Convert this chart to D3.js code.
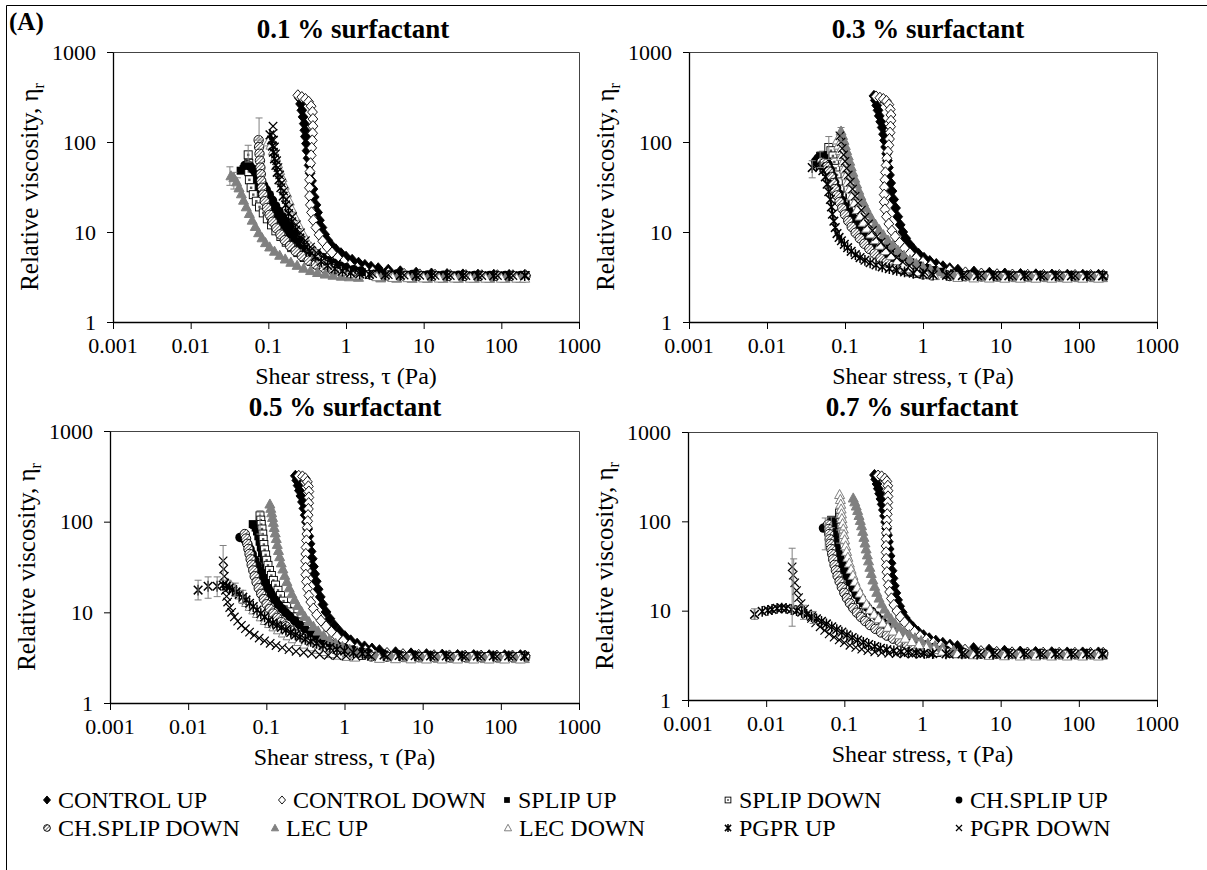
<!DOCTYPE html>
<html>
<head>
<meta charset="utf-8">
<script src="https://cdn.jsdelivr.net/npm/d3@7"></script>
</head>
<body style="margin:0">
<div id="chart"></div>
<script>
/* relative viscosity vs shear stress, 4 surfactant levels */

const xTicks = [0.001, 0.01, 0.1, 1, 10, 100, 1000];
const xTickLabels = ["0.001", "0.01", "0.1", "1", "10", "100", "1000"];
const yTicks = [1, 10, 100, 1000];
const yTickLabels = ["1", "10", "100", "1000"];
const panelTitles = ["0.1 % surfactant", "0.3 % surfactant", "0.5 % surfactant", "0.7 % surfactant"];
const seriesNames = ["CONTROL UP", "CONTROL DOWN", "SPLIP UP", "SPLIP DOWN", "CH.SPLIP UP",
                     "CH.SPLIP DOWN", "LEC UP", "LEC DOWN", "PGPR UP", "PGPR DOWN"];

/* ---- 0.1 % ---- [shear stress Pa, relative viscosity] */
const p1_ctrlUp = [[0.25,310],[0.26,265],[0.27,225],[0.28,190],[0.29,160],[0.295,135],[0.3,115],[0.31,96],[0.315,80],[0.325,66],[0.335,55],[0.345,45],[0.36,37],[0.375,30],[0.39,24.5],[0.41,20],[0.43,16.5],[0.455,13.5],[0.49,11.2],[0.53,9.4],[0.58,8.1],[0.65,7.1],[0.74,6.4],[0.86,5.8],[1,5.3],[1.2,4.9],[1.45,4.55],[1.75,4.3],[2.1,4.1],[2.6,3.95],[3.5,3.8],[5,3.65],[8,3.52],[12.6,3.45],[20,3.4],[32,3.37],[50,3.35],[80,3.34],[126,3.33],[200,3.32]];
const p1_ctrlDown = [[0.24,330],[0.27,315],[0.3,300],[0.33,280],[0.355,250],[0.37,215],[0.375,180],[0.375,150],[0.372,125],[0.368,104],[0.362,86],[0.356,71],[0.35,58],[0.344,47],[0.34,38],[0.338,31],[0.34,25],[0.348,20],[0.36,16.5],[0.38,13.5],[0.41,11.2],[0.45,9.3],[0.5,7.9],[0.57,6.8],[0.66,5.9],[0.78,5.2],[0.93,4.7],[1.12,4.3],[1.4,4],[1.75,3.8],[2.2,3.65],[3.5,3.5],[5.6,3.42],[8.9,3.37],[14,3.34],[22,3.32],[35,3.31],[56,3.3],[89,3.3],[141,3.3],[205,3.3]];
const p1_splipUp = [[0.044,48],[0.048,50],[0.052,49],[0.056,46],[0.06,42],[0.065,38],[0.07,34],[0.076,30],[0.083,26.5],[0.09,23.5],[0.1,20.5],[0.11,18],[0.122,15.8],[0.136,13.8],[0.152,12],[0.17,10.6],[0.19,9.3],[0.215,8.2],[0.245,7.3],[0.28,6.6],[0.32,6],[0.37,5.5],[0.43,5.05],[0.5,4.7],[0.6,4.4],[0.72,4.15],[0.87,3.95],[1.05,3.8],[1.3,3.68],[1.6,3.58],[2.5,3.45],[4,3.38],[6.3,3.34],[10,3.31],[15.8,3.3],[25,3.29],[40,3.28],[63,3.28],[100,3.28],[158,3.28],[200,3.28]];
const p1_splipDown = [[0.055,72],[0.056,58],[0.056,47],[0.057,38],[0.06,31],[0.064,26],[0.07,22],[0.077,19],[0.086,16.3],[0.097,14],[0.11,12],[0.125,10.3],[0.145,8.9],[0.17,7.7],[0.2,6.7],[0.24,5.9],[0.29,5.2],[0.36,4.7],[0.45,4.3],[0.57,4],[0.73,3.8],[0.95,3.63],[1.25,3.5],[2,3.38],[3.2,3.32],[5,3.29],[8,3.27],[12.6,3.26],[20,3.25],[32,3.25],[50,3.25],[80,3.25],[126,3.25],[200,3.25]];
const p1_chUp = [[0.05,55],[0.054,56],[0.058,54],[0.063,50],[0.068,46],[0.074,41],[0.08,37],[0.087,33],[0.094,29.5],[0.103,26],[0.113,22.5],[0.124,19.5],[0.137,17],[0.152,14.8],[0.17,13],[0.19,11.4],[0.215,10],[0.245,8.8],[0.28,7.8],[0.32,7],[0.37,6.3],[0.43,5.7],[0.5,5.2],[0.59,4.8],[0.7,4.5],[0.84,4.2],[1,4],[1.25,3.82],[1.55,3.68],[2.8,3.5],[4.5,3.42],[7.1,3.37],[11.2,3.34],[17.8,3.32],[28,3.31],[45,3.3],[71,3.3],[112,3.3],[178,3.3]];
const p1_chDown = [[0.075,105],[0.076,88],[0.077,74],[0.078,62],[0.079,52],[0.08,44],[0.081,37],[0.083,31],[0.086,26],[0.09,22],[0.096,18.5],[0.104,15.5],[0.114,13],[0.127,11],[0.143,9.4],[0.163,8.1],[0.19,7],[0.225,6.1],[0.27,5.4],[0.33,4.8],[0.41,4.35],[0.52,4],[0.67,3.75],[0.87,3.58],[1.15,3.46],[2.2,3.32],[3.5,3.28],[5.6,3.26],[8.9,3.25],[14,3.24],[22,3.24],[35,3.24],[56,3.24],[89,3.24],[141,3.24],[205,3.24]];
const p1_lecUp = [[0.033,42],[0.036,40],[0.039,36],[0.042,31],[0.045,26.5],[0.048,22.5],[0.052,19],[0.057,16],[0.062,13.5],[0.068,11.5],[0.075,9.8],[0.083,8.6],[0.092,7.6],[0.104,6.8],[0.12,6.1],[0.14,5.5],[0.165,5],[0.195,4.6],[0.235,4.25],[0.285,3.95],[0.35,3.72],[0.43,3.54],[0.54,3.4],[0.68,3.3],[0.87,3.22],[1.1,3.17],[1.45,3.13],[2.8,3.08],[4.5,3.06],[7.1,3.05],[11.2,3.05],[17.8,3.05],[28,3.05],[45,3.05],[71,3.05],[112,3.05],[178,3.05]];
const p1_lecDown = [[0.1,100],[0.108,92],[0.116,80],[0.124,68],[0.132,57],[0.14,48],[0.15,40],[0.16,33],[0.172,27],[0.186,22],[0.2,18],[0.22,14.7],[0.245,12],[0.275,9.8],[0.31,8.1],[0.355,6.8],[0.41,5.8],[0.48,5],[0.57,4.4],[0.7,3.95],[0.87,3.65],[1.1,3.45],[1.4,3.32],[2.5,3.18],[4,3.12],[6.3,3.1],[10,3.08],[15.8,3.07],[25,3.07],[40,3.06],[63,3.06],[100,3.06],[158,3.06],[200,3.06]];
const p1_pgprUp = [[0.105,120],[0.11,105],[0.113,90],[0.116,77],[0.12,65],[0.125,55],[0.13,46],[0.137,38],[0.145,31],[0.155,25],[0.167,20],[0.182,16],[0.2,13],[0.225,10.5],[0.255,8.6],[0.29,7.2],[0.34,6.1],[0.4,5.3],[0.48,4.7],[0.58,4.25],[0.72,3.9],[0.9,3.68],[1.15,3.52],[1.5,3.42],[2,3.38],[3.2,3.33],[5,3.3],[8,3.28],[12.6,3.27],[20,3.27],[32,3.27],[50,3.27],[80,3.27],[126,3.27],[200,3.27]];
const p1_pgprDown = [[0.115,150],[0.115,125],[0.117,105],[0.12,88],[0.124,74],[0.128,62],[0.133,52],[0.14,43],[0.148,35],[0.158,28.5],[0.17,23],[0.185,18.5],[0.205,14.8],[0.23,12],[0.26,9.8],[0.3,8],[0.35,6.8],[0.42,5.9],[0.5,5.3],[0.61,4.8],[0.76,4.4],[0.95,4.05],[1.2,3.8],[1.5,3.62],[2.2,3.45],[3.5,3.36],[5.6,3.32],[8.9,3.3],[14,3.29],[22,3.28],[35,3.28],[56,3.28],[89,3.28],[141,3.28],[205,3.28]];
const p1_err = [[0.032,33,53],[0.036,30,46],[0.04,28,40],[0.055,60,92],[0.076,105,185]];

/* ---- 0.3 % ---- */
const p2_ctrlUp = [[0.235,325],[0.245,290],[0.255,255],[0.265,225],[0.275,195],[0.287,168],[0.3,145],[0.312,122],[0.322,104],[0.332,88],[0.342,74],[0.35,62],[0.36,52],[0.372,43],[0.385,35],[0.4,28.5],[0.42,23],[0.445,18.5],[0.475,14.8],[0.51,12],[0.55,10],[0.6,8.5],[0.67,7.3],[0.76,6.4],[0.88,5.7],[1.03,5.15],[1.22,4.75],[1.48,4.4],[1.8,4.15],[2.2,3.95],[2.8,3.8],[4.5,3.62],[7.1,3.52],[11.2,3.45],[17.8,3.41],[28,3.38],[45,3.36],[71,3.35],[112,3.34],[178,3.34]];
const p2_ctrlDown = [[0.25,320],[0.28,310],[0.31,300],[0.34,285],[0.365,260],[0.38,230],[0.388,200],[0.388,172],[0.384,148],[0.378,127],[0.372,108],[0.365,92],[0.355,78],[0.345,66],[0.337,55],[0.33,46],[0.325,38],[0.32,31.5],[0.318,26],[0.318,21.5],[0.325,17.8],[0.34,14.8],[0.365,12.3],[0.4,10.3],[0.44,8.9],[0.5,7.6],[0.58,6.6],[0.68,5.8],[0.82,5.15],[1,4.65],[1.25,4.25],[1.6,3.95],[2.2,3.75],[3.5,3.55],[5.6,3.45],[8.9,3.39],[14,3.36],[22,3.34],[35,3.33],[56,3.32],[89,3.32],[141,3.32],[205,3.32]];
const p2_splipUp = [[0.048,70],[0.052,72],[0.056,71],[0.06,68],[0.064,62],[0.068,54],[0.072,46],[0.076,39],[0.081,33],[0.087,28],[0.094,24],[0.102,20.8],[0.112,18.2],[0.124,16],[0.138,14],[0.155,12.3],[0.175,10.9],[0.2,9.6],[0.23,8.5],[0.27,7.6],[0.32,6.8],[0.38,6.1],[0.46,5.5],[0.56,5],[0.69,4.6],[0.86,4.25],[1.08,3.98],[1.38,3.77],[1.75,3.62],[2.5,3.48],[4,3.4],[6.3,3.35],[10,3.32],[15.8,3.3],[25,3.29],[40,3.28],[63,3.28],[100,3.28],[158,3.28],[200,3.28]];
const p2_splipDown = [[0.062,87],[0.066,80],[0.07,70],[0.073,60],[0.076,51],[0.079,43],[0.082,36],[0.086,30],[0.091,25],[0.097,21],[0.105,17.6],[0.115,14.8],[0.128,12.4],[0.145,10.4],[0.165,8.8],[0.19,7.5],[0.22,6.5],[0.26,5.7],[0.31,5.05],[0.38,4.5],[0.47,4.1],[0.59,3.8],[0.75,3.6],[0.96,3.45],[1.25,3.35],[2.8,3.26],[4.5,3.24],[7.1,3.23],[11.2,3.22],[17.8,3.22],[28,3.22],[45,3.22],[71,3.22],[112,3.22],[178,3.22]];
const p2_chUp = [[0.042,61],[0.045,66],[0.049,68],[0.053,66],[0.057,62],[0.061,56],[0.065,49],[0.069,42],[0.073,36],[0.078,31],[0.084,26.5],[0.091,22.5],[0.099,19.3],[0.109,16.6],[0.121,14.3],[0.136,12.3],[0.154,10.6],[0.176,9.2],[0.2,8],[0.235,7],[0.28,6.1],[0.33,5.4],[0.4,4.85],[0.49,4.4],[0.61,4.05],[0.77,3.78],[0.98,3.58],[1.25,3.45],[2,3.36],[3.2,3.32],[5,3.3],[8,3.29],[12.6,3.28],[20,3.28],[32,3.28],[50,3.28],[80,3.28],[126,3.28],[200,3.28]];
const p2_chDown = [[0.05,60],[0.054,58],[0.058,53],[0.062,47],[0.066,41],[0.07,35],[0.074,30],[0.079,25.5],[0.085,21.5],[0.092,18.3],[0.1,15.6],[0.11,13.3],[0.122,11.4],[0.137,9.8],[0.155,8.5],[0.177,7.4],[0.205,6.5],[0.24,5.75],[0.285,5.1],[0.34,4.6],[0.41,4.2],[0.5,3.9],[0.62,3.66],[0.78,3.5],[1,3.38],[1.3,3.3],[2.2,3.24],[3.5,3.22],[5.6,3.21],[8.9,3.2],[14,3.2],[22,3.2],[35,3.2],[56,3.2],[89,3.2],[141,3.2],[205,3.2]];
const p2_lecUp = [[0.089,132],[0.093,118],[0.097,104],[0.101,91],[0.105,80],[0.11,70],[0.115,61],[0.12,53],[0.126,46],[0.133,39.5],[0.141,34],[0.15,29],[0.16,25],[0.172,21.5],[0.186,18.5],[0.202,16],[0.22,14],[0.245,12.2],[0.275,10.6],[0.31,9.3],[0.355,8.1],[0.41,7.1],[0.48,6.2],[0.57,5.5],[0.68,4.9],[0.82,4.45],[1,4.1],[1.25,3.82],[1.55,3.6],[1.95,3.45],[2.5,3.3],[4,3.2],[6.3,3.15],[10,3.12],[15.8,3.1],[25,3.1],[40,3.1],[63,3.1],[100,3.1],[158,3.1],[200,3.1]];
const p2_lecDown = [[0.08,105],[0.083,92],[0.087,80],[0.09,69],[0.094,59],[0.098,50],[0.103,42],[0.108,35.5],[0.115,30],[0.123,25],[0.132,21],[0.143,17.7],[0.156,15],[0.172,12.8],[0.19,11],[0.215,9.5],[0.245,8.2],[0.28,7.1],[0.33,6.2],[0.39,5.45],[0.47,4.8],[0.57,4.3],[0.7,3.9],[0.87,3.6],[1.1,3.4],[1.4,3.27],[2.8,3.12],[4.5,3.08],[7.1,3.07],[11.2,3.06],[17.8,3.06],[28,3.06],[45,3.06],[71,3.06],[112,3.06],[178,3.06]];
const p2_pgprUp = [[0.038,52],[0.043,55],[0.048,53],[0.052,48],[0.056,41],[0.059,34],[0.062,28],[0.065,23],[0.067,19],[0.069,15.8],[0.072,13.2],[0.075,11.2],[0.079,9.6],[0.084,8.7],[0.09,8],[0.098,7.3],[0.108,6.7],[0.12,6.1],[0.136,5.6],[0.156,5.2],[0.18,4.85],[0.21,4.55],[0.25,4.3],[0.3,4.1],[0.37,3.92],[0.46,3.75],[0.58,3.6],[0.75,3.48],[1,3.4],[1.35,3.34],[2,3.3],[3.2,3.28],[5,3.27],[8,3.26],[12.6,3.26],[20,3.26],[32,3.26],[50,3.26],[80,3.26],[126,3.26],[200,3.26]];
const p2_pgprDown = [[0.086,117],[0.089,100],[0.092,85],[0.096,72],[0.1,61],[0.105,51],[0.11,43],[0.117,36],[0.125,30],[0.135,25],[0.147,21],[0.162,17.5],[0.18,14.6],[0.2,12.3],[0.225,10.4],[0.255,8.9],[0.29,7.7],[0.335,6.7],[0.39,5.9],[0.46,5.2],[0.55,4.65],[0.67,4.2],[0.83,3.87],[1.03,3.62],[1.3,3.45],[2.2,3.32],[3.5,3.28],[5.6,3.27],[8.9,3.26],[14,3.26],[22,3.26],[35,3.26],[56,3.26],[89,3.26],[141,3.26],[205,3.26]];
const p2_err = [[0.038,40,62],[0.048,52,78],[0.062,64,115],[0.089,102,145]];

/* ---- 0.5 % ---- */
const p3_ctrlUp = [[0.235,320],[0.245,285],[0.255,250],[0.265,220],[0.277,192],[0.29,165],[0.302,140],[0.314,118],[0.326,99],[0.338,83],[0.35,69],[0.362,57],[0.374,47],[0.387,39],[0.4,32],[0.415,26.5],[0.435,22],[0.46,18],[0.49,14.8],[0.53,12.2],[0.58,10.1],[0.65,8.5],[0.74,7.2],[0.86,6.2],[1.01,5.45],[1.2,4.9],[1.45,4.5],[1.8,4.2],[2.25,3.98],[2.8,3.82],[4.5,3.62],[7.1,3.52],[11.2,3.45],[17.8,3.41],[28,3.38],[45,3.37],[71,3.36],[112,3.36],[178,3.36]];
const p3_ctrlDown = [[0.26,320],[0.29,315],[0.315,300],[0.335,275],[0.345,245],[0.35,215],[0.35,185],[0.348,160],[0.345,138],[0.342,118],[0.338,101],[0.334,86],[0.33,73],[0.326,62],[0.322,52],[0.32,44],[0.318,37],[0.318,31],[0.32,26],[0.326,21.8],[0.336,18.2],[0.35,15.3],[0.37,13],[0.4,11],[0.44,9.4],[0.5,8.1],[0.58,7],[0.68,6.1],[0.8,5.4],[0.96,4.85],[1.17,4.4],[1.45,4.05],[1.85,3.8],[2.2,3.7],[3.5,3.55],[5.6,3.45],[8.9,3.39],[14,3.36],[22,3.34],[35,3.33],[56,3.33],[89,3.33],[141,3.33],[205,3.33]];
const p3_splipUp = [[0.067,94],[0.07,92],[0.073,86],[0.076,78],[0.079,69],[0.082,60],[0.085,52],[0.088,45],[0.092,39],[0.097,33.5],[0.103,29],[0.11,25],[0.118,21.5],[0.128,18.5],[0.14,16],[0.154,13.8],[0.17,12],[0.19,10.4],[0.215,9],[0.245,7.9],[0.28,6.95],[0.325,6.15],[0.38,5.45],[0.45,4.9],[0.54,4.45],[0.66,4.1],[0.82,3.82],[1.02,3.62],[1.3,3.48],[1.65,3.38],[2.5,3.3],[4,3.27],[6.3,3.25],[10,3.24],[15.8,3.24],[25,3.24],[40,3.24],[63,3.24],[100,3.24],[158,3.24],[200,3.24]];
const p3_splipDown = [[0.083,116],[0.085,104],[0.086,93],[0.088,83],[0.09,73],[0.091,64],[0.093,56],[0.095,49],[0.098,43],[0.101,37.5],[0.105,33],[0.11,29],[0.116,25.5],[0.123,22.5],[0.131,20],[0.141,17.5],[0.152,15.3],[0.166,13.3],[0.182,11.6],[0.2,10.1],[0.225,8.9],[0.255,7.8],[0.29,6.9],[0.335,6.1],[0.39,5.45],[0.46,4.9],[0.55,4.45],[0.67,4.1],[0.82,3.82],[1.02,3.6],[1.3,3.45],[1.65,3.35],[2.8,3.28],[4.5,3.26],[7.1,3.25],[11.2,3.25],[17.8,3.25],[28,3.25],[45,3.25],[71,3.25],[112,3.25],[178,3.25]];
const p3_chUp = [[0.046,67],[0.05,66],[0.054,62],[0.058,56],[0.062,50],[0.066,44],[0.071,38],[0.076,33],[0.082,28.5],[0.089,24.5],[0.097,21],[0.106,18.2],[0.116,15.8],[0.128,13.8],[0.142,12.2],[0.158,11],[0.177,9.9],[0.2,9],[0.23,8.1],[0.265,7.3],[0.31,6.6],[0.37,6],[0.44,5.45],[0.53,5],[0.65,4.6],[0.8,4.3],[1,4.05],[1.28,3.85],[1.65,3.68],[2,3.58],[3.2,3.45],[5,3.38],[8,3.34],[12.6,3.32],[20,3.31],[32,3.3],[50,3.3],[80,3.3],[126,3.3],[200,3.3]];
const p3_chDown = [[0.053,73],[0.055,65],[0.057,57],[0.059,50],[0.061,44],[0.063,38.5],[0.065,33.5],[0.068,29],[0.071,25],[0.075,21.5],[0.08,18.5],[0.086,16],[0.093,14],[0.101,12.3],[0.111,10.9],[0.123,9.7],[0.138,8.7],[0.156,7.8],[0.178,7],[0.205,6.3],[0.24,5.7],[0.285,5.15],[0.34,4.7],[0.41,4.3],[0.5,3.98],[0.62,3.72],[0.78,3.52],[1,3.4],[1.3,3.32],[2.2,3.26],[3.5,3.24],[5.6,3.23],[8.9,3.22],[14,3.22],[22,3.22],[35,3.22],[56,3.22],[89,3.22],[141,3.22],[205,3.22]];
const p3_lecUp = [[0.111,156],[0.114,140],[0.117,125],[0.12,111],[0.123,98],[0.126,86],[0.13,75],[0.134,65],[0.138,56],[0.143,48],[0.148,41],[0.155,35],[0.163,30],[0.172,25.5],[0.183,21.8],[0.196,18.6],[0.212,16],[0.23,13.8],[0.252,11.9],[0.28,10.3],[0.31,9],[0.35,7.9],[0.4,7],[0.46,6.2],[0.54,5.55],[0.64,5],[0.77,4.55],[0.94,4.2],[1.16,3.92],[1.45,3.7],[1.85,3.52],[2.5,3.35],[4,3.22],[6.3,3.15],[10,3.12],[15.8,3.1],[25,3.09],[40,3.08],[63,3.08],[100,3.08],[158,3.08],[200,3.08]];
const p3_lecDown = [[0.032,21],[0.035,20],[0.038,18.5],[0.042,17],[0.046,15.5],[0.051,14],[0.056,12.8],[0.062,11.6],[0.069,10.6],[0.077,9.7],[0.086,8.9],[0.097,8.1],[0.11,7.5],[0.125,6.9],[0.143,6.4],[0.165,5.9],[0.19,5.5],[0.22,5.1],[0.26,4.75],[0.31,4.45],[0.37,4.15],[0.45,3.9],[0.55,3.68],[0.68,3.5],[0.85,3.36],[1.07,3.26],[1.35,3.2],[2.8,3.1],[4.5,3.07],[7.1,3.06],[11.2,3.05],[17.8,3.05],[28,3.05],[45,3.05],[71,3.05],[112,3.05],[178,3.05]];
const p3_pgprUp = [[0.0134,17.6],[0.018,19.4],[0.0235,19.4],[0.028,20],[0.031,19.5],[0.034,18.8],[0.037,17.8],[0.041,16.8],[0.045,15.8],[0.05,14.7],[0.055,13.7],[0.061,12.6],[0.068,11.6],[0.076,10.6],[0.085,9.7],[0.095,8.9],[0.107,8.1],[0.121,7.6],[0.137,7.2],[0.156,6.8],[0.178,6.4],[0.205,6],[0.235,5.65],[0.27,5.35],[0.315,5.05],[0.37,4.8],[0.44,4.55],[0.53,4.3],[0.65,4.1],[0.8,3.9],[1,3.75],[1.3,3.6],[1.7,3.5],[2,3.45],[3.2,3.38],[5,3.34],[8,3.32],[12.6,3.31],[20,3.3],[32,3.3],[50,3.3],[80,3.3],[126,3.3],[200,3.3]];
const p3_pgprDown = [[0.028,37],[0.0285,30],[0.029,25],[0.0295,21],[0.03,17.5],[0.031,15],[0.032,13],[0.034,11.3],[0.036,10],[0.039,8.9],[0.043,8],[0.048,7.2],[0.054,6.6],[0.061,6.05],[0.07,5.6],[0.081,5.2],[0.095,4.85],[0.112,4.55],[0.133,4.3],[0.16,4.08],[0.195,3.88],[0.24,3.72],[0.3,3.6],[0.38,3.5],[0.48,3.42],[0.62,3.36],[0.8,3.32],[1.05,3.3],[1.4,3.28],[2.2,3.27],[3.5,3.26],[5.6,3.26],[8.9,3.26],[14,3.26],[22,3.26],[35,3.26],[56,3.26],[89,3.26],[141,3.26],[205,3.26]];
const p3_err = [[0.0134,13.7,22.6],[0.018,14.3,24.6],[0.0235,14.9,24.6],[0.028,22.6,54.6],[0.04,15,21],[0.05,12.5,17.5],[0.083,73,132]];

/* ---- 0.7 % ---- */
const p4_ctrlUp = [[0.243,330],[0.252,295],[0.262,262],[0.272,232],[0.283,204],[0.294,178],[0.305,155],[0.316,134],[0.327,115],[0.338,98],[0.348,83],[0.357,70],[0.366,59],[0.375,49],[0.385,41],[0.396,34],[0.408,28],[0.42,23],[0.436,19],[0.456,15.8],[0.48,13.2],[0.51,11.2],[0.55,9.6],[0.6,8.3],[0.67,7.3],[0.76,6.5],[0.88,5.8],[1.03,5.3],[1.22,4.9],[1.48,4.6],[1.82,4.35],[2.25,4.15],[2.8,4],[4.5,3.8],[7.1,3.65],[11.2,3.55],[17.8,3.48],[28,3.44],[45,3.42],[71,3.4],[112,3.4],[178,3.4]];
const p4_ctrlDown = [[0.27,325],[0.3,318],[0.33,300],[0.35,280],[0.36,250],[0.362,220],[0.362,190],[0.36,163],[0.357,140],[0.354,120],[0.351,102],[0.348,87],[0.345,74],[0.343,63],[0.342,53],[0.342,45],[0.343,38],[0.346,32],[0.35,27],[0.356,22.8],[0.366,19.2],[0.38,16.2],[0.4,13.7],[0.43,11.6],[0.47,9.9],[0.52,8.5],[0.59,7.4],[0.68,6.5],[0.79,5.8],[0.93,5.2],[1.12,4.75],[1.38,4.38],[1.72,4.08],[2.2,3.88],[3.5,3.65],[5.6,3.52],[8.9,3.45],[14,3.41],[22,3.39],[35,3.38],[56,3.37],[89,3.37],[141,3.37],[205,3.37]];
const p4_splipUp = [[0.068,104],[0.071,97],[0.074,88],[0.077,78],[0.08,68],[0.083,59],[0.087,51],[0.091,44],[0.096,38],[0.102,32.5],[0.109,28],[0.117,24],[0.127,20.7],[0.138,17.8],[0.151,15.3],[0.167,13.2],[0.186,11.4],[0.21,9.9],[0.24,8.6],[0.275,7.5],[0.32,6.6],[0.375,5.85],[0.44,5.2],[0.53,4.68],[0.64,4.25],[0.79,3.92],[0.98,3.68],[1.23,3.5],[1.55,3.4],[2.5,3.32],[4,3.29],[6.3,3.28],[10,3.27],[15.8,3.27],[25,3.27],[40,3.27],[63,3.27],[100,3.27],[158,3.27],[200,3.27]];
const p4_splipDown = [[0.087,124],[0.088,110],[0.09,97],[0.091,86],[0.093,76],[0.095,67],[0.097,59],[0.099,52],[0.102,45.5],[0.105,40],[0.109,35],[0.113,30.5],[0.118,26.5],[0.124,23],[0.131,20],[0.139,17.5],[0.149,15.3],[0.161,13.4],[0.176,11.7],[0.194,10.3],[0.216,9.1],[0.243,8.1],[0.275,7.2],[0.315,6.45],[0.365,5.8],[0.43,5.2],[0.51,4.7],[0.62,4.3],[0.76,3.95],[0.95,3.7],[1.2,3.52],[1.52,3.4],[2.8,3.3],[4.5,3.27],[7.1,3.26],[11.2,3.26],[17.8,3.26],[28,3.26],[45,3.26],[71,3.26],[112,3.26],[178,3.26]];
const p4_chUp = [[0.054,84],[0.058,86],[0.062,82],[0.066,76],[0.07,68],[0.074,60],[0.078,52],[0.083,45],[0.088,38.5],[0.094,33],[0.101,28.3],[0.109,24.3],[0.118,20.8],[0.129,17.8],[0.142,15.2],[0.158,13.2],[0.176,12],[0.198,10.9],[0.225,9.8],[0.26,8.7],[0.3,7.8],[0.35,7],[0.41,6.35],[0.49,5.75],[0.59,5.25],[0.72,4.8],[0.89,4.42],[1.1,4.12],[1.4,3.88],[1.8,3.68],[2,3.62],[3.2,3.48],[5,3.4],[8,3.36],[12.6,3.34],[20,3.33],[32,3.32],[50,3.32],[80,3.32],[126,3.32],[200,3.32]];
const p4_chDown = [[0.062,92],[0.063,82],[0.064,72],[0.065,63],[0.066,56],[0.068,49],[0.07,43],[0.072,37.5],[0.075,32.5],[0.078,28.3],[0.082,24.5],[0.087,21.2],[0.093,18.3],[0.1,15.8],[0.108,13.8],[0.118,12.1],[0.13,10.7],[0.145,9.5],[0.163,8.5],[0.185,7.65],[0.213,6.9],[0.25,6.25],[0.295,5.7],[0.35,5.25],[0.42,4.85],[0.51,4.5],[0.63,4.2],[0.78,3.95],[0.98,3.75],[1.25,3.58],[2.2,3.38],[3.5,3.32],[5.6,3.29],[8.9,3.28],[14,3.27],[22,3.27],[35,3.27],[56,3.27],[89,3.27],[141,3.27],[205,3.27]];
const p4_lecUp = [[0.13,182],[0.136,165],[0.142,148],[0.148,132],[0.154,116],[0.16,102],[0.166,89],[0.172,77],[0.178,66],[0.184,57],[0.19,49],[0.197,42],[0.204,36],[0.212,30.5],[0.221,26],[0.232,22],[0.245,18.7],[0.26,16],[0.278,13.8],[0.3,11.9],[0.326,10.4],[0.358,9.1],[0.397,8.1],[0.445,7.2],[0.505,6.5],[0.58,5.9],[0.68,5.4],[0.8,4.95],[0.96,4.6],[1.17,4.3],[1.45,4.05],[1.8,3.85],[2.5,3.6],[4,3.42],[6.3,3.32],[10,3.26],[15.8,3.22],[25,3.2],[40,3.18],[63,3.17],[100,3.17],[158,3.17],[200,3.17]];
const p4_lecDown = [[0.087,199],[0.089,175],[0.09,155],[0.091,137],[0.092,121],[0.093,107],[0.095,94],[0.097,82],[0.099,71],[0.101,62],[0.104,53],[0.107,46],[0.111,39.5],[0.116,34],[0.122,29],[0.129,24.8],[0.137,21.2],[0.147,18.2],[0.159,15.7],[0.174,13.6],[0.192,11.8],[0.214,10.3],[0.24,9.1],[0.272,8.1],[0.31,7.25],[0.36,6.5],[0.42,5.9],[0.5,5.35],[0.6,4.9],[0.73,4.5],[0.9,4.15],[1.12,3.88],[1.4,3.66],[1.8,3.5],[2.8,3.3],[4.5,3.2],[7.1,3.15],[11.2,3.12],[17.8,3.1],[28,3.1],[45,3.1],[71,3.1],[112,3.1],[178,3.1]];
const p4_pgprUp = [[0.0071,9.1],[0.0089,9.8],[0.0105,10.1],[0.0119,10.3],[0.0138,10.6],[0.0158,10.7],[0.018,10.6],[0.021,10.3],[0.0245,10],[0.0285,9.6],[0.033,9.1],[0.038,8.6],[0.044,8.1],[0.051,7.6],[0.059,7.1],[0.069,6.6],[0.08,6.15],[0.093,5.75],[0.108,5.35],[0.126,5],[0.148,4.7],[0.175,4.42],[0.205,4.18],[0.245,3.97],[0.29,3.8],[0.35,3.66],[0.43,3.55],[0.53,3.46],[0.66,3.4],[0.83,3.36],[1.05,3.33],[1.35,3.31],[2,3.29],[3.2,3.28],[5,3.27],[8,3.27],[12.6,3.27],[20,3.27],[32,3.27],[50,3.27],[80,3.27],[126,3.27],[200,3.27]];
const p4_pgprDown = [[0.0215,31],[0.0222,25],[0.0232,20.5],[0.0245,16.8],[0.026,14],[0.028,12],[0.031,10.4],[0.034,9.2],[0.038,8.2],[0.043,7.3],[0.049,6.6],[0.056,6],[0.064,5.5],[0.074,5.05],[0.086,4.7],[0.1,4.38],[0.118,4.1],[0.14,3.88],[0.167,3.7],[0.2,3.56],[0.245,3.45],[0.3,3.38],[0.37,3.33],[0.46,3.3],[0.58,3.28],[0.74,3.27],[0.95,3.26],[1.25,3.26],[2.2,3.25],[3.5,3.25],[5.6,3.25],[8.9,3.25],[14,3.25],[22,3.25],[35,3.25],[56,3.25],[89,3.25],[141,3.25],[205,3.25]];
const p4_err = [[0.0071,8,10.5],[0.0215,6.7,50],[0.0225,11,38],[0.03,8,11.5],[0.04,7.2,9.8],[0.057,48,109],[0.068,85,112],[0.087,57,80]];

/* ---- SET UP ---- */
const width = 1207, height = 870;
const GRAY = "#808080";

// panel boxes (pixel layout)
const boxes = [
    { l: 113, r: 579,  t: 52,  b: 322, tx: 353, ty: 38 },
    { l: 689, r: 1157, t: 52,  b: 322, tx: 928, ty: 38 },
    { l: 110, r: 579,  t: 431, b: 703, tx: 345, ty: 416 },
    { l: 688, r: 1157, t: 432, b: 700, tx: 922, ty: 416 }
];

const panels = [
    { series: [p1_ctrlUp, p1_ctrlDown, p1_splipUp, p1_splipDown, p1_chUp, p1_chDown, p1_lecUp, p1_lecDown, p1_pgprUp, p1_pgprDown], err: p1_err },
    { series: [p2_ctrlUp, p2_ctrlDown, p2_splipUp, p2_splipDown, p2_chUp, p2_chDown, p2_lecUp, p2_lecDown, p2_pgprUp, p2_pgprDown], err: p2_err },
    { series: [p3_ctrlUp, p3_ctrlDown, p3_splipUp, p3_splipDown, p3_chUp, p3_chDown, p3_lecUp, p3_lecDown, p3_pgprUp, p3_pgprDown], err: p3_err },
    { series: [p4_ctrlUp, p4_ctrlDown, p4_splipUp, p4_splipDown, p4_chUp, p4_chDown, p4_lecUp, p4_lecDown, p4_pgprUp, p4_pgprDown], err: p4_err }
];

// marker style per series, same order as seriesNames
const markTypes = ["diamondFill", "diamondOpen", "squareFill", "squareDot", "circleFill",
                   "circleHatch", "triFill", "triOpen", "star", "cross"];

let svg = d3.select("#chart")
    .append("svg")
    .attr("width", width)
    .attr("height", height);

// all texts are set up here, serif face like the reference
function txt(parent) {
    return parent.append("text")
        .style("font-family", '"Liberation Serif"')
        .attr("fill", "#000");
}

svg.append("defs").append("pattern")
    .attr("id", "hatch")
    .attr("patternUnits", "userSpaceOnUse")
    .attr("width", 2.6).attr("height", 2.6)
    .attr("patternTransform", "rotate(45)")
    .call(p => p.append("rect").attr("width", 2.6).attr("height", 2.6).attr("fill", "#fff"))
    .call(p => p.append("line").attr("x1", 0).attr("y1", 0).attr("x2", 0).attr("y2", 2.6)
        .attr("stroke", "#000").attr("stroke-width", 1.1));

// outer frame (left + top only, the rest is cropped)
svg.append("path")
    .attr("d", `M${width},5.5H6.5V${height}`)
    .attr("fill", "none").attr("stroke", "#000").attr("stroke-width", 1);

/* draw one marker into every group of a selection */
function drawMark(sel, type, k) {
    const s = k || 1;
    if (type === "diamondFill" || type === "diamondOpen") {
        sel.append("path")
            .attr("d", `M0,${-5.6 * s}L${4.9 * s},0L0,${5.6 * s}L${-4.9 * s},0Z`)
            .attr("fill", type === "diamondFill" ? "#000" : "#fff")
            .attr("stroke", "#000").attr("stroke-width", 0.9);
    } else if (type === "squareFill") {
        sel.append("rect").attr("x", -4 * s).attr("y", -4 * s)
            .attr("width", 8 * s).attr("height", 8 * s).attr("fill", "#000");
    } else if (type === "squareDot") {
        sel.append("rect").attr("x", -4 * s).attr("y", -4 * s)
            .attr("width", 8 * s).attr("height", 8 * s)
            .attr("fill", "#fff").attr("stroke", "#000").attr("stroke-width", 0.9);
        sel.append("rect").attr("x", -1.2 * s).attr("y", -1.2 * s)
            .attr("width", 2.4 * s).attr("height", 2.4 * s).attr("fill", "#555");
    } else if (type === "circleFill") {
        sel.append("circle").attr("r", 4.7 * s).attr("fill", "#000");
    } else if (type === "circleHatch") {
        sel.append("circle").attr("r", 4.7 * s)
            .attr("fill", "url(#hatch)").attr("stroke", "#000").attr("stroke-width", 0.9);
    } else if (type === "triFill" || type === "triOpen") {
        sel.append("path")
            .attr("d", `M0,${-5.2 * s}L${5 * s},${3.9 * s}L${-5 * s},${3.9 * s}Z`)
            .attr("fill", type === "triFill" ? GRAY : "#fff")
            .attr("stroke", GRAY).attr("stroke-width", 1);
    } else if (type === "star") {
        sel.append("path")
            .attr("d", `M${-4.3 * s},${-4.3 * s}L${4.3 * s},${4.3 * s}M${-4.3 * s},${4.3 * s}L${4.3 * s},${-4.3 * s}M0,${-5.4 * s}L0,${5.4 * s}`)
            .attr("stroke", "#000").attr("stroke-width", 1.5).attr("fill", "none");
    } else if (type === "cross") {
        sel.append("path")
            .attr("d", `M${-4.2 * s},${-4.2 * s}L${4.2 * s},${4.2 * s}M${-4.2 * s},${4.2 * s}L${4.2 * s},${-4.2 * s}`)
            .attr("stroke", "#000").attr("stroke-width", 1.2).attr("fill", "none");
    }
}

/* ---- LEGEND (regular-weight texts first) ---- */
const legendPos = [[47, 808], [282, 808], [507, 808], [728, 808], [959, 808],
                   [47, 836], [275, 836], [508, 836], [728, 836], [959, 836]];

seriesNames.forEach((name, i) => {
    const lg = svg.append("g")
        .attr("transform", `translate(${legendPos[i][0]},${legendPos[i][1]})`);
    drawMark(lg.append("g").attr("transform", "translate(0,-8)"), markTypes[i], 0.72);
    txt(lg).attr("x", 11).attr("font-size", 24).text(name);
});

/* ---- PANELS ---- */
const boldTitles = [];

panels.forEach((panel, pi) => {
    const box = boxes[pi];

    let x = d3.scaleLog()
        .domain([0.001, 1000])
        .range([box.l, box.r]);

    let y = d3.scaleLog()
        .domain([1, 1000])
        .range([box.b, box.t]);

    const g = svg.append("g");

    // top and right borders of the plot area
    g.append("path")
        .attr("d", `M${box.l},${box.t + 0.5}H${box.r + 0.5}V${box.b}`)
        .attr("fill", "none").attr("stroke", "#444").attr("stroke-width", 1);

    // axis lines and ticks from d3, labels written as own texts
    g.append("g")
        .attr("transform", `translate(0,${box.b})`)
        .call(d3.axisBottom(x).tickValues(xTicks).tickFormat("").tickSize(7).tickSizeOuter(0))
        .call(gg => gg.select(".domain").attr("stroke", "#000").attr("stroke-width", 1.3))
        .call(gg => gg.selectAll(".tick line").attr("stroke", "#000"))
        .call(gg => gg.selectAll(".tick text").remove());

    g.append("g")
        .attr("transform", `translate(${box.l},0)`)
        .call(d3.axisLeft(y).tickValues(yTicks).tickFormat("").tickSize(6).tickSizeOuter(0))
        .call(gg => gg.select(".domain").attr("stroke", "#000").attr("stroke-width", 1.3))
        .call(gg => gg.selectAll(".tick line").attr("stroke", "#000"))
        .call(gg => gg.selectAll(".tick text").remove());

    xTicks.forEach((v, i) => {
        txt(g).attr("x", x(v)).attr("y", box.b + 31)
            .attr("text-anchor", "middle").attr("font-size", 22)
            .text(xTickLabels[i]);
    });
    yTicks.forEach((v, i) => {
        txt(g).attr("x", box.l - 17).attr("y", y(v) + 7.5)
            .attr("text-anchor", "end").attr("font-size", 22)
            .text(yTickLabels[i]);
    });

    txt(g)
        .attr("x", (box.l + box.r) / 2).attr("y", box.b + 62)
        .attr("text-anchor", "middle")
        .attr("font-size", 24)
        .text("Shear stress, τ (Pa)");

    const yl = txt(g)
        .attr("transform", `translate(${box.l - 75},${(box.t + box.b) / 2}) rotate(-90)`)
        .attr("text-anchor", "middle")
        .attr("font-size", 25);
    yl.append("tspan").text("Relative viscosity, η");
    yl.append("tspan").attr("font-size", 16).attr("dy", 6).text("r");

    // series markers, drawn in legend order
    panel.series.forEach((data, si) => {
        let pts = g.append("g").attr("class", "series")
            .selectAll("g")
            .data(data)
            .join("g")
            .attr("transform", d => `translate(${x(d[0])},${y(d[1])})`);
        drawMark(pts, markTypes[si], 1);
    });

    // error bars
    let eb = g.append("g").attr("stroke", GRAY).attr("stroke-width", 1)
        .selectAll("g")
        .data(panel.err)
        .join("g");
    eb.append("line")
        .attr("x1", d => x(d[0])).attr("x2", d => x(d[0]))
        .attr("y1", d => y(d[1])).attr("y2", d => y(d[2]));
    eb.append("line")
        .attr("x1", d => x(d[0]) - 3.5).attr("x2", d => x(d[0]) + 3.5)
        .attr("y1", d => y(d[2])).attr("y2", d => y(d[2]));
    eb.append("line")
        .attr("x1", d => x(d[0]) - 3.5).attr("x2", d => x(d[0]) + 3.5)
        .attr("y1", d => y(d[1])).attr("y2", d => y(d[1]));

    boldTitles.push({ x: box.tx, y: box.ty, text: panelTitles[pi] });
});

/* ---- BOLD TEXTS LAST ---- */
boldTitles.forEach(t => {
    txt(svg)
        .attr("x", t.x).attr("y", t.y)
        .attr("text-anchor", "middle")
        .attr("font-size", 27).attr("font-weight", "bold")
        .text(t.text);
});

txt(svg)
    .attr("x", 9).attr("y", 30)
    .attr("font-size", 25).attr("font-weight", "bold")
    .text("(A)");
</script>
</body>
</html>
